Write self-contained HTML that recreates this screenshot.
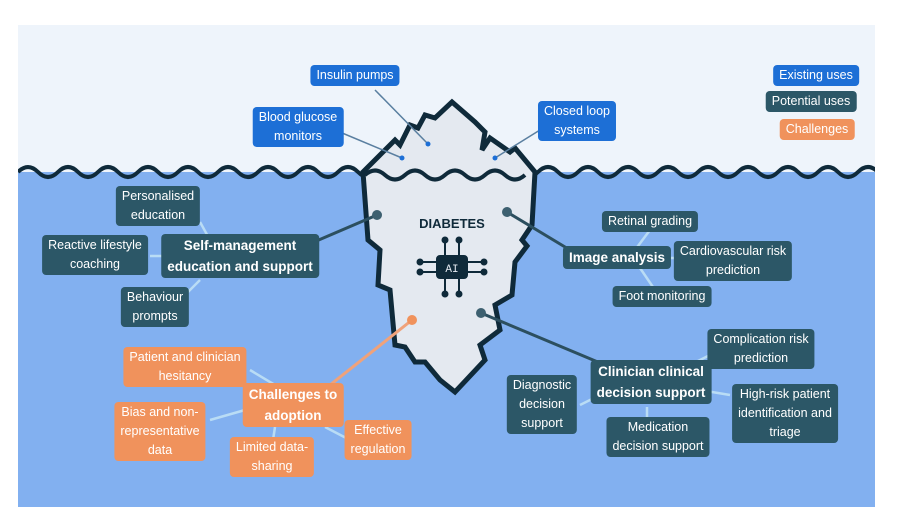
<!DOCTYPE html>
<html><head><meta charset="utf-8"><style>
body{margin:0;width:897px;height:532px;background:#fff;position:relative;overflow:hidden;font-family:"Liberation Sans",sans-serif}
.l{position:absolute;transform:translateX(-50%);text-align:center;white-space:nowrap;font-size:12.5px;line-height:19px;color:#fff;padding:1px 6px;border-radius:4px}
.d{background:#2c5767}.b{background:#1d6fd6}.o{background:#f0925c}
.B{font-weight:bold;font-size:13.5px;line-height:21px}
</style></head><body>
<svg width="897" height="532" style="position:absolute;left:0;top:0">
<defs><clipPath id="c"><rect x="18" y="25" width="857" height="482"/></clipPath></defs>
<rect x="18" y="25" width="857" height="482" fill="#eef4fb"/>
<rect x="18" y="172" width="857" height="335" fill="#82b0f0"/>
<path clip-path="url(#c)" d="M18 172 q10 -10 20 0 t20 0 t20 0 t20 0 t20 0 t20 0 t20 0 t20 0 t20 0 t20 0 t20 0 t20 0 t20 0 t20 0 t20 0 t20 0 t20 0 t20 0 t20 0 t20 0 t20 0 t20 0 t20 0 t20 0 t20 0 t20 0 t20 0 t20 0 t20 0 t20 0 t20 0 t20 0 t20 0 t20 0 t20 0 t20 0 t20 0 t20 0 t20 0 t20 0 t20 0 t20 0 t20 0 t20 0 t20 0 t20 0 t20 0 t20 0" fill="none" stroke="#0f2a3a" stroke-width="4"/>
<polygon points="363,172 395,140 400,145 410,125 418,128 425,115 435,118 452,102 475,122 485,132 482,150 490,138 510,152 515,148 535,172 532,225 522,240 527,246 515,262 512,295 495,305 500,330 480,345 485,360 455,392 440,380 425,362 415,362 405,347 395,345 390,290 378,285 380,250 368,240" fill="#e4e9f0" stroke="#0f2a3a" stroke-width="5" stroke-linejoin="miter"/>
<path d="M365 175 q10 -9 20 0 t20 0 t20 0 t20 0 t20 0 t20 0 t20 0 t20 0" fill="none" stroke="#0f2a3a" stroke-width="4"/>
<g stroke="#5a7fa0" stroke-width="1.5"><line x1="375" y1="90" x2="428" y2="144"/><line x1="335" y1="130" x2="402" y2="158"/><line x1="548" y1="125" x2="495" y2="158"/></g>
<g fill="#1d6fd6"><circle cx="428" cy="144" r="2.5"/><circle cx="402" cy="158" r="2.5"/><circle cx="495" cy="158" r="2.5"/></g>
<g stroke="#b9dcf5" stroke-width="2.5"><line x1="200" y1="222" x2="210" y2="240"/><line x1="150" y1="256" x2="180" y2="256"/><line x1="180" y1="300" x2="200" y2="280"/>
<line x1="650" y1="230" x2="635" y2="250"/><line x1="670" y1="258" x2="690" y2="258"/><line x1="640" y1="268" x2="655" y2="290"/>
<line x1="710" y1="355" x2="690" y2="365"/><line x1="700" y1="390" x2="730" y2="395"/><line x1="580" y1="405" x2="600" y2="395"/><line x1="647" y1="407" x2="647" y2="420"/>
<line x1="250" y1="370" x2="275" y2="385"/><line x1="210" y1="420" x2="245" y2="410"/><line x1="275" y1="427" x2="273" y2="440"/><line x1="325" y1="427" x2="350" y2="440"/></g>
<g stroke="#2c4f5f" stroke-width="3"><line x1="377" y1="215" x2="300" y2="248"/><line x1="507" y1="212" x2="570" y2="250"/><line x1="481" y1="313" x2="605" y2="365"/></g>
<line x1="412" y1="320" x2="330" y2="385" stroke="#f0a27a" stroke-width="3"/>
<g fill="#3d6070"><circle cx="377" cy="215" r="5"/><circle cx="507" cy="212" r="5"/><circle cx="481" cy="313" r="5"/></g>
<circle cx="412" cy="320" r="5" fill="#f0925c"/>
<text x="452" y="228" text-anchor="middle" font-family="Liberation Sans" font-weight="bold" font-size="13" fill="#0f2a3a">DIABETES</text>
<g stroke="#0f2a3a" stroke-width="2" fill="#0f2a3a">
<rect x="437" y="256" width="30" height="22" rx="3"/>
<line x1="420" y1="262" x2="437" y2="262"/><line x1="420" y1="272" x2="437" y2="272"/><line x1="467" y1="262" x2="484" y2="262"/><line x1="467" y1="272" x2="484" y2="272"/>
<line x1="445" y1="240" x2="445" y2="256"/><line x1="459" y1="240" x2="459" y2="256"/><line x1="445" y1="278" x2="445" y2="294"/><line x1="459" y1="278" x2="459" y2="294"/>
<circle cx="420" cy="262" r="2.5"/><circle cx="420" cy="272" r="2.5"/><circle cx="484" cy="262" r="2.5"/><circle cx="484" cy="272" r="2.5"/><circle cx="445" cy="240" r="2.5"/><circle cx="459" cy="240" r="2.5"/><circle cx="445" cy="294" r="2.5"/><circle cx="459" cy="294" r="2.5"/></g>
<text x="452" y="272" text-anchor="middle" font-family="Liberation Mono" font-size="11" fill="#e4e9f0">AI</text>
</svg>
<div class="l b" style="left:355px;top:65px">Insulin pumps</div>
<div class="l b" style="left:298px;top:107px">Blood glucose<br>monitors</div>
<div class="l b" style="left:577px;top:101px">Closed loop<br>systems</div>
<div class="l b" style="left:816px;top:65px">Existing uses</div>
<div class="l d" style="left:811px;top:91px">Potential uses</div>
<div class="l o" style="left:817px;top:119px">Challenges</div>
<div class="l d" style="left:158px;top:186px">Personalised<br>education</div>
<div class="l d" style="left:95px;top:235px">Reactive lifestyle<br>coaching</div>
<div class="l d B" style="left:240px;top:234px">Self-management<br>education and support</div>
<div class="l d" style="left:155px;top:287px">Behaviour<br>prompts</div>
<div class="l d" style="left:650px;top:211px">Retinal grading</div>
<div class="l d B" style="left:617px;top:246px">Image analysis</div>
<div class="l d" style="left:733px;top:241px">Cardiovascular risk<br>prediction</div>
<div class="l d" style="left:662px;top:286px">Foot monitoring</div>
<div class="l d" style="left:761px;top:329px">Complication risk<br>prediction</div>
<div class="l d B" style="left:651px;top:360px">Clinician clinical<br>decision support</div>
<div class="l d" style="left:542px;top:375px">Diagnostic<br>decision<br>support</div>
<div class="l d" style="left:785px;top:384px">High-risk patient<br>identification and<br>triage</div>
<div class="l d" style="left:658px;top:417px">Medication<br>decision support</div>
<div class="l o" style="left:185px;top:347px">Patient and clinician<br>hesitancy</div>
<div class="l o B" style="left:293px;top:383px">Challenges to<br>adoption</div>
<div class="l o" style="left:160px;top:402px">Bias and non-<br>representative<br>data</div>
<div class="l o" style="left:272px;top:437px">Limited data-<br>sharing</div>
<div class="l o" style="left:378px;top:420px">Effective<br>regulation</div>
</body></html>
